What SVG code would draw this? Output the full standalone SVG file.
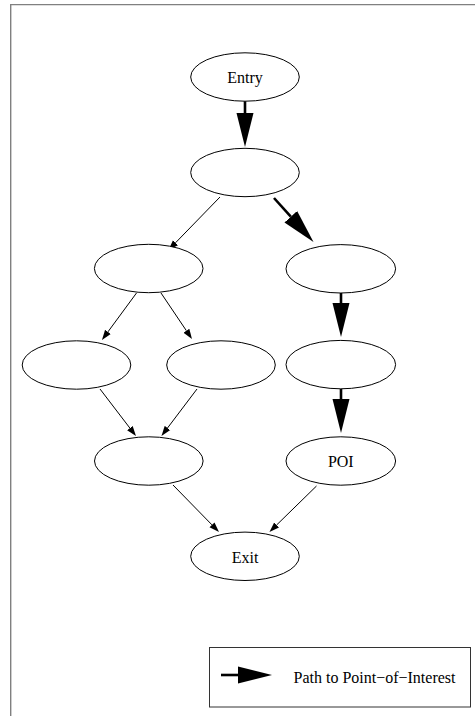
<svg xmlns="http://www.w3.org/2000/svg" width="475" height="716" viewBox="0 0 475 716">
  <style>
    .frame { fill: none; stroke: #808080; stroke-width: 1.4; }
    .node ellipse { fill: #ffffff; stroke: #000000; stroke-width: 1; }
    .node text, .legend text { font-family: "Liberation Serif", "Times New Roman", serif; font-size: 16px; fill: #000000; text-anchor: middle; }
    .edge { fill: none; stroke: #000000; stroke-width: 1; }
    .edge.poi { stroke-width: 2.6; }
    .legend rect { fill: #ffffff; stroke: #333333; stroke-width: 1; }
  </style>
  <defs>
    <marker id="head" markerUnits="userSpaceOnUse" viewBox="0 -4 10 8" markerWidth="10" markerHeight="8" refX="0" refY="0" orient="auto">
      <path d="M0,-3.5 L10,0 L0,3.5 Z" fill="#000000"/>
    </marker>
    <marker id="head-poi" markerUnits="userSpaceOnUse" viewBox="0 -9 34 18" markerWidth="34" markerHeight="18" refX="0" refY="0" orient="auto">
      <path d="M0,-8.5 L34,0 L0,8.5 Z" fill="#000000"/>
    </marker>
  </defs>

  <rect width="475" height="716" fill="#ffffff"/>
  <!-- page frame: top and left rules -->
  <path class="frame" d="M10.7,716 V4.6 H475"/>

  <!-- connectors -->
  <g id="edges">
    <path class="edge poi" d="M245,101 V113" marker-end="url(#head-poi)"/>
    <path class="edge" d="M220,197 L175.5,242.8" marker-end="url(#head)"/>
    <path class="edge poi" d="M274,198 L290.8,216.7" marker-end="url(#head-poi)"/>
    <path class="edge" d="M136.5,293 L107.9,331.9" marker-end="url(#head)"/>
    <path class="edge" d="M161,293 L186.4,330.7" marker-end="url(#head)"/>
    <path class="edge poi" d="M341,293 V303" marker-end="url(#head-poi)"/>
    <path class="edge poi" d="M341,389 V399" marker-end="url(#head-poi)"/>
    <path class="edge" d="M100,389 L129.9,428.1" marker-end="url(#head)"/>
    <path class="edge" d="M197,389 L167.5,428" marker-end="url(#head)"/>
    <path class="edge" d="M173,485 L212,524.9" marker-end="url(#head)"/>
    <path class="edge" d="M316.5,486 L276.6,525" marker-end="url(#head)"/>
  </g>

  <!-- nodes -->
  <g id="entry" class="node">
    <ellipse cx="245" cy="77" rx="54.3" ry="24.2"/>
    <text x="245" y="83">Entry</text>
  </g>
  <g id="n1" class="node">
    <ellipse cx="245" cy="172.5" rx="54.3" ry="24.2"/>
  </g>
  <g id="n2" class="node">
    <ellipse cx="148.7" cy="268.5" rx="54.3" ry="24.2"/>
  </g>
  <g id="n3" class="node">
    <ellipse cx="340.8" cy="268.8" rx="54.8" ry="24.2"/>
  </g>
  <g id="n4" class="node">
    <ellipse cx="76.5" cy="365" rx="54.3" ry="24.2"/>
  </g>
  <g id="n5" class="node">
    <ellipse cx="221" cy="365" rx="54.3" ry="24.2"/>
  </g>
  <g id="n6" class="node">
    <ellipse cx="340.8" cy="364.6" rx="54.8" ry="24.2"/>
  </g>
  <g id="n7" class="node">
    <ellipse cx="148.8" cy="461" rx="54.3" ry="24.2"/>
  </g>
  <g id="poi" class="node">
    <ellipse cx="340.8" cy="461" rx="54.8" ry="24.2"/>
    <text x="340.8" y="467">POI</text>
  </g>
  <g id="exit" class="node">
    <ellipse cx="245" cy="556.3" rx="54.3" ry="24.2"/>
    <text x="245" y="562.5">Exit</text>
  </g>

  <!-- key -->
  <g id="legend" class="legend">
    <rect x="209.5" y="647.5" width="261" height="59.5"/>
    <path class="edge poi" d="M221,675 H238" marker-end="url(#head-poi)"/>
    <text x="374.5" y="683">Path to Point−of−Interest</text>
  </g>
</svg>
